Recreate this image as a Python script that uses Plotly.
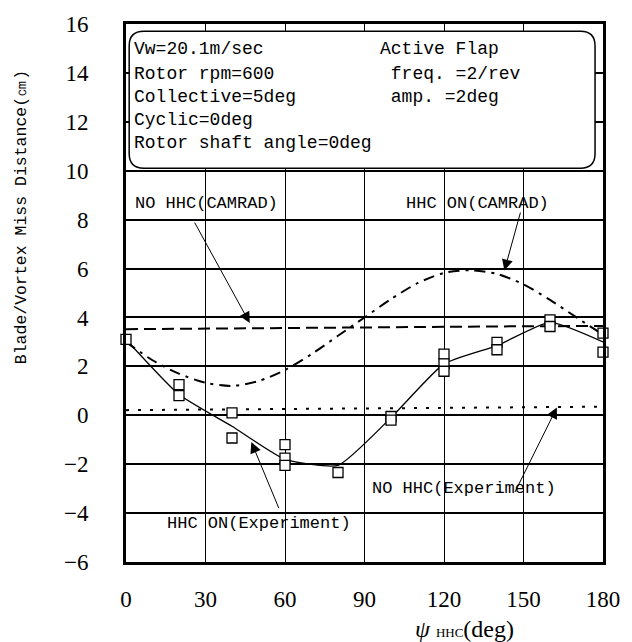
import plotly.graph_objects as go

# ---------------- data ----------------
psi_exp = [0, 20, 20, 40, 40, 60, 60, 60, 80, 100, 100, 120, 120, 120, 140, 140, 160, 160, 180, 180]
hhc_on_exp = [3.1, 1.25, 0.8, 0.1, -0.93, -1.2, -1.75, -2.05, -2.34, -0.05, -0.2, 2.5, 2.1, 1.8, 2.98, 2.68, 3.9, 3.63, 3.36, 2.58]

psi_fit = [0, 20, 40, 60, 80, 100, 120, 140, 160, 180]
hhc_on_exp_fit = [3.1, 0.85, -0.45, -1.8, -2.05, -0.1, 2.1, 2.85, 3.8, 3.0]

psi_camrad = [0, 10, 20, 30, 40, 50, 60, 70, 80, 90, 100, 110, 120, 130, 140, 150, 160, 170, 180]
hhc_on_camrad = [3.0, 2.25, 1.7, 1.33, 1.2, 1.4, 1.85, 2.5, 3.25, 4.0, 4.75, 5.4, 5.82, 5.93, 5.78, 5.35, 4.72, 4.0, 3.3]

psi_flat = [0, 30, 60, 90, 120, 150, 180]
no_hhc_camrad = [3.52, 3.55, 3.57, 3.6, 3.62, 3.64, 3.65]
no_hhc_exp = [0.21, 0.23, 0.26, 0.28, 0.31, 0.33, 0.35]

x_ticks = [0, 30, 60, 90, 120, 150, 180]
y_ticks = [-6, -4, -2, 0, 2, 4, 6, 8, 10, 12, 14, 16]

info_left = ["Vw=20.1m/sec", "Rotor rpm=600", "Collective=5deg", "Cyclic=0deg", "Rotor shaft angle=0deg"]
info_right = ["Active Flap", " freq. =2/rev", " amp. =2deg"]

MONO = "Liberation Mono"
SERIF = "Liberation Serif"

fig = go.Figure()

fig.add_trace(go.Scatter(x=psi_flat, y=no_hhc_camrad, mode="lines",
                         line=dict(color="black", width=2, dash="12px,6px"), showlegend=False))
fig.add_trace(go.Scatter(x=psi_flat, y=no_hhc_exp, mode="lines",
                         line=dict(color="black", width=2, dash="3px,9px"), showlegend=False))
fig.add_trace(go.Scatter(x=psi_camrad, y=hhc_on_camrad, mode="lines",
                         line=dict(color="black", width=2, dash="11px,6px,3px,6px", shape="spline", smoothing=0.8),
                         showlegend=False))
fig.add_trace(go.Scatter(x=psi_fit, y=hhc_on_exp_fit, mode="lines",
                         line=dict(color="black", width=1.3, shape="spline", smoothing=0.5), showlegend=False))
fig.add_trace(go.Scatter(x=psi_exp, y=hhc_on_exp, mode="markers", cliponaxis=False,
                         marker=dict(symbol="square", size=10, color="white",
                                     line=dict(color="black", width=1.3)), showlegend=False))

# ---------------- rounded info box ----------------
x0, x1, y0, y1 = 1.2, 177.0, 10.1, 15.7
rx, ry = 5.5, 0.6
path = (f"M {x0+rx},{y1} L {x1-rx},{y1} Q {x1},{y1} {x1},{y1-ry} "
        f"L {x1},{y0+ry} Q {x1},{y0} {x1-rx},{y0} L {x0+rx},{y0} "
        f"Q {x0},{y0} {x0},{y0+ry} L {x0},{y1-ry} Q {x0},{y1} {x0+rx},{y1} Z")
fig.add_shape(type="path", path=path, xref="x", yref="y", layer="above",
              line=dict(color="black", width=1.5), fillcolor="white")

ann = []
left_y = [14.98, 13.97, 13.0, 12.06, 11.13]
for t, yy in zip(info_left, left_y):
    ann.append(dict(x=2.2, y=yy, xref="x", yref="y", text=t, showarrow=False,
                    xanchor="left", yanchor="middle", font=dict(family=MONO, size=18, color="black")))
right_y = [14.98, 13.97, 13.0]
for t, yy in zip(info_right, right_y):
    ann.append(dict(x=95.2, y=yy, xref="x", yref="y", text=t, showarrow=False,
                    xanchor="left", yanchor="middle", font=dict(family=MONO, size=18, color="black")))

# labels
lab_font = dict(family=MONO, size=17, color="black")
ann += [
    dict(x=30.5, y=8.66, xref="x", yref="y", text="NO HHC(CAMRAD)", showarrow=False, font=lab_font),
    dict(x=132.5, y=8.66, xref="x", yref="y", text="HHC ON(CAMRAD)", showarrow=False, font=lab_font),
    dict(x=127.5, y=-3.0, xref="x", yref="y", text="NO HHC(Experiment)", showarrow=False, font=lab_font),
    dict(x=50.0, y=-4.41, xref="x", yref="y", text="HHC ON(Experiment)", showarrow=False, font=lab_font),
]
# arrows (tip at x,y ; tail at ax,ay)
arrow_style = dict(xref="x", yref="y", axref="x", ayref="y", text="", showarrow=True,
                   arrowhead=2, arrowsize=2.2, arrowwidth=1, arrowcolor="black", standoff=0)
ann += [
    dict(x=46.7, y=3.77, ax=25.6, ay=7.94, **arrow_style),
    dict(x=142.8, y=5.92, ax=149.0, ay=8.35, **arrow_style),
    dict(x=162.6, y=0.32, ax=146.5, ay=-3.2, **arrow_style),
    dict(x=47.3, y=-1.09, ax=57.9, ay=-3.86, **arrow_style),
]
# axis titles
ann.append(dict(x=-0.219, y=0.64, xref="paper", yref="paper", text="Blade/Vortex Miss Distance(㎝)",
                textangle=-90, showarrow=False, xanchor="center", yanchor="middle",
                font=dict(family=MONO, size=16.5, color="black")))
ann.append(dict(x=0.71, y=-0.125, xref="paper", yref="paper",
                text="<i>ψ</i> <span style='font-size:13px'>HHC</span>(deg)",
                showarrow=False, xanchor="center", yanchor="middle",
                font=dict(family=SERIF, size=24, color="black")))

fig.update_layout(
    width=632, height=642,
    margin=dict(l=126, r=22, t=18, b=80),
    paper_bgcolor="white", plot_bgcolor="white",
    annotations=ann,
    showlegend=False,
)
fig.update_xaxes(range=[0, 180], tickvals=x_ticks, ticktext=[str(v) for v in x_ticks],
                 showgrid=True, gridcolor="black", gridwidth=1.3, zeroline=False,
                 showline=True, linecolor="black", linewidth=3, mirror=True, ticks="",
                 ticklabelstandoff=14, tickfont=dict(family=SERIF, size=23, color="black"))
fig.update_yaxes(range=[-6, 16], tickvals=y_ticks, ticktext=[str(v).replace("-", "−") for v in y_ticks],
                 showgrid=True, gridcolor="black", gridwidth=2, zeroline=False,
                 showline=True, linecolor="black", linewidth=3, mirror=True, ticks="",
                 ticklabelstandoff=30, tickfont=dict(family=SERIF, size=23, color="black"))

fig.write_html("out.html")
